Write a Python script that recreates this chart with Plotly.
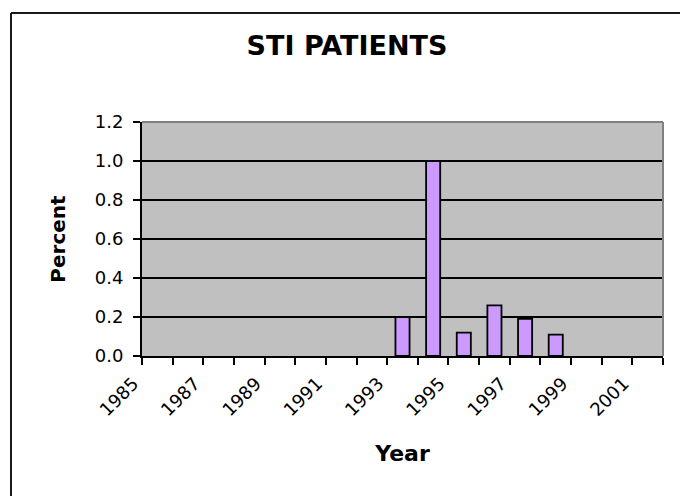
import plotly.graph_objects as go

# ---- data ----
years = ["1985", "1986", "1987", "1988", "1989", "1990", "1991", "1992", "1993",
         "1994", "1995", "1996", "1997", "1998", "1999", "2000", "2001"]
percent = [None, None, None, None, None, None, None, None, 0.20,
           1.00, 0.12, 0.26, 0.19, 0.11, None, None, None]
tick_labels = ["1985", "", "1987", "", "1989", "", "1991", "", "1993",
               "", "1995", "", "1997", "", "1999", "", "2001"]
y_ticks = [0.0, 0.2, 0.4, 0.6, 0.8, 1.0, 1.2]

title_text = "STI PATIENTS"
x_title = "Year"
y_title = "Percent"

# ---- layout constants (pixels) ----
W, H = 680, 496
ML, MR, MT, MB = 142, 17, 122, 140
PW, PH = W - ML - MR, H - MT - MB


def px_x(px):
    return (px - ML) / PW


def px_y(py):
    return (H - MB - py) / PH


FONT = "DejaVu Sans"

fig = go.Figure()
fig.add_trace(go.Bar(
    x=years, y=percent,
    marker=dict(color="#CC99FF", line=dict(color="#000000", width=1.8)),
    showlegend=False,
))

fig.update_layout(
    width=W, height=H,
    margin=dict(l=ML, r=MR, t=MT, b=MB, pad=0),
    paper_bgcolor="#FFFFFF",
    plot_bgcolor="#C0C0C0",
    bargap=0.54,
    font=dict(family=FONT, color="#000000", size=18),
    title=dict(text="<b>" + title_text + "</b>", x=347 / W, xanchor="center",
               y=1 - 46 / H, yanchor="middle", yref="container",
               font=dict(family=FONT, size=27, color="#000000")),
    xaxis=dict(
        type="category",
        tickmode="array", tickvals=years, ticktext=tick_labels,
        tickson="boundaries",
        ticks="outside", ticklen=7, tickwidth=1.5, tickcolor="#000000",
        tickangle=-45,
        ticklabelshift=-24,
        ticklabelstandoff=8,
        showline=True, linecolor="#000000", linewidth=2,
        showgrid=False,
        tickfont=dict(family=FONT, size=18),
        title=dict(text="<b>" + x_title + "</b>", standoff=26,
                   font=dict(family=FONT, size=22)),
        range=[-0.5, 16.5],
    ),
    yaxis=dict(
        range=[0, 1.2],
        tickmode="array", tickvals=y_ticks, tickformat=".1f",
        ticks="outside", ticklen=7, tickwidth=1.5, tickcolor="#000000",
        ticklabelstandoff=6,
        showline=True, linecolor="#000000", linewidth=2,
        showgrid=True, gridcolor="#000000", gridwidth=1.5,
        zeroline=False,
        tickfont=dict(family=FONT, size=18),
        title=dict(text="<b>" + y_title + "</b>", standoff=24,
                   font=dict(family=FONT, size=20)),
    ),
    shapes=[
        # plot-area frame (gray top/right)
        dict(type="line", xref="paper", yref="paper", x0=0, x1=1, y0=1, y1=1,
             line=dict(color="#808080", width=2)),
        dict(type="line", xref="paper", yref="paper", x0=1, x1=1, y0=0, y1=1,
             line=dict(color="#808080", width=2)),
        # chart border (top and left visible)
        dict(type="line", xref="paper", yref="paper",
             x0=px_x(11), x1=px_x(W + 2), y0=px_y(13), y1=px_y(13),
             line=dict(color="#1a1a1a", width=2)),
        dict(type="line", xref="paper", yref="paper",
             x0=px_x(11), x1=px_x(11), y0=px_y(13), y1=px_y(H + 2),
             line=dict(color="#1a1a1a", width=2)),
    ],
)

fig.write_html(
    "out.html",
    config={"displayModeBar": False},
    post_script="document.body.style.margin='0';document.body.style.overflow='hidden';",
)
